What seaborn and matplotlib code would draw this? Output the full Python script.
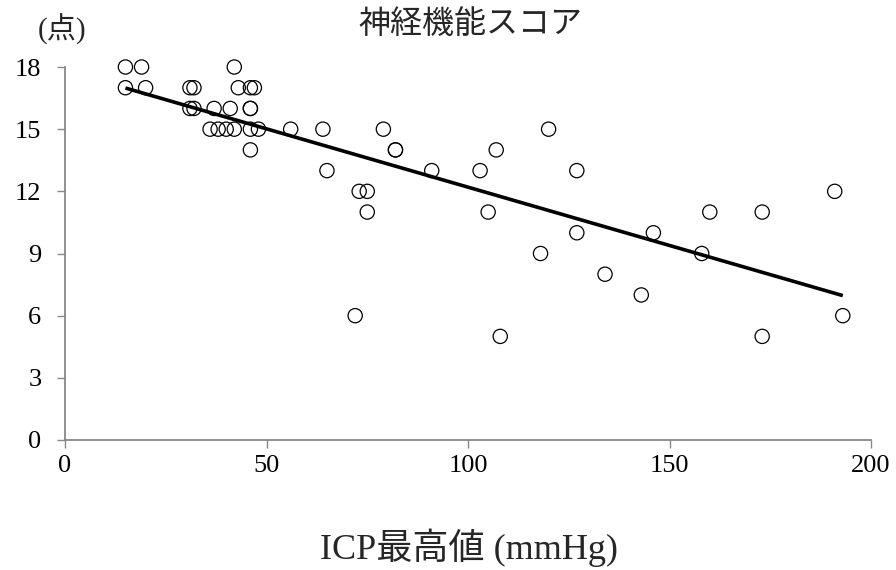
import matplotlib
matplotlib.use("Agg")
import matplotlib.pyplot as plt
import seaborn as sns
import pandas as pd
import numpy as np

icp = [15, 19, 15, 20, 42, 31, 32, 43, 46, 47,
       31, 32, 37, 41, 46, 46, 36, 38, 40, 42, 46, 48,
       46, 56, 64, 79, 82, 82, 65, 91, 73, 75, 75, 72,
       120, 107, 103, 127, 191, 105, 160, 173, 127, 146,
       118, 158, 134, 143, 193, 108, 173]
score = [18, 18, 17, 17, 18, 17, 17, 17, 17, 17,
         16, 16, 16, 16, 16, 16, 15, 15, 15, 15, 15, 15,
         14, 15, 15, 15, 14, 14, 13, 13, 12, 12, 11, 6,
         15, 14, 13, 13, 12, 11, 11, 11, 10, 10,
         9, 9, 8, 7, 6, 5, 5]

x_ticks = [0, 50, 100, 150, 200]
y_ticks = [0, 3, 6, 9, 12, 15, 18]
title = "神経機能スコア"
unit_label = "(点)"
x_label = "ICP最高値 (mmHg)"

df = pd.DataFrame({"icp": icp, "score": score})

sns.set_theme(style="white")
fam = ["Liberation Serif", "Noto Sans CJK JP", "DejaVu Sans"]
plt.rcParams["font.family"] = fam

fig = plt.figure(figsize=(8.96, 5.70), dpi=100)
ax = fig.add_axes([65 / 896, 1 - 440 / 570, (871 - 65) / 896, (440 - 67) / 570])

sns.regplot(data=df, x="icp", y="score", ax=ax, ci=None, scatter=False,
            line_kws={"color": "black", "lw": 2.6, "solid_capstyle": "butt"})
sns.scatterplot(data=df, x="icp", y="score", ax=ax, s=105, facecolor="none",
                edgecolor="black", linewidth=0.9, zorder=3, legend=False,
                clip_on=False)

ax.set_xlim(0, 200)
ax.set_ylim(0, 18)
ax.set_xticks(x_ticks)
ax.set_yticks(y_ticks)
ax.tick_params(axis="both", labelsize=19, colors="#888888", labelcolor="black",
               direction="out", length=6, width=1, bottom=True, left=True)
ax.tick_params(axis="x", pad=5)
ax.tick_params(axis="y", pad=11)
for s in ["top", "right"]:
    ax.spines[s].set_visible(False)
for s in ["left", "bottom"]:
    ax.spines[s].set_color("#888888")
    ax.spines[s].set_linewidth(1.3)

ax.set_xlabel("")
ax.set_ylabel("")
fig.text(470 / 896, 1 - 25 / 570, title, ha="center", va="center", fontsize=23, family=fam)
fig.text(62 / 896, 1 - 29 / 570, unit_label, ha="center", va="center", fontsize=21, family=fam)
fig.text(469 / 896, 1 - 548 / 570, x_label, ha="center", va="center", fontsize=26, family=fam)

fig.savefig("out.png", dpi=100)
